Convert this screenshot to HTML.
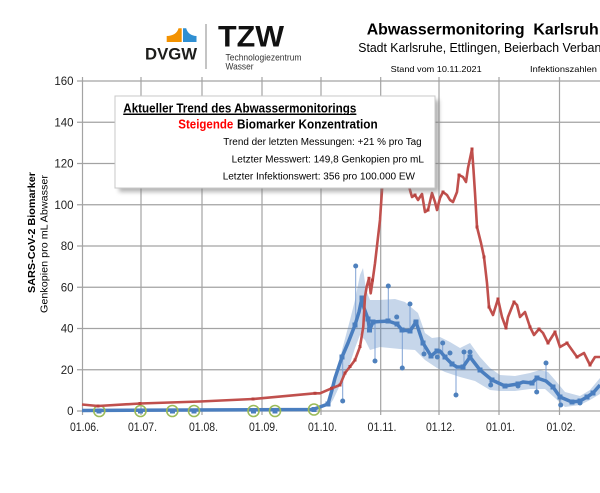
<!DOCTYPE html>
<html><head><meta charset="utf-8"><style>
html,body{margin:0;padding:0;background:#fff;}
svg{display:block;}
</style></head><body>
<svg width="600" height="493" viewBox="0 0 600 493" xmlns="http://www.w3.org/2000/svg" font-family="'Liberation Sans', Arial, sans-serif">
<defs>
<filter id="sh" x="-10%" y="-10%" width="130%" height="140%"><feGaussianBlur stdDeviation="2"/></filter>
<clipPath id="cp"><rect x="0" y="0" width="600" height="493"/></clipPath>
</defs>
<rect width="600" height="493" fill="#fff"/>

<!-- Logo -->
<path d="M166.7,42 L166.7,36 C173,36 177.5,33 178.5,28.3 L181.7,28.3 L181.7,42 Z" fill="#f39200"/>
<path d="M183,28.3 L186.2,28.3 C187.2,33 191.5,36 196.5,36 L196.5,42 L183,42 Z" fill="#2f8fd2"/>
<text x="145" y="59.5" font-size="17" font-weight="bold" fill="#1d1d1b" textLength="52" lengthAdjust="spacingAndGlyphs">DVGW</text>
<line x1="206" y1="24" x2="206" y2="69" stroke="#8a8a8a" stroke-width="1"/>
<text x="218" y="46.7" font-size="30" font-weight="bold" fill="#111" textLength="66" lengthAdjust="spacingAndGlyphs">TZW</text>
<text x="225.5" y="60.5" font-size="9.5" fill="#333" textLength="76" lengthAdjust="spacingAndGlyphs">Technologiezentrum</text>
<text x="225.5" y="69.5" font-size="9.5" fill="#333" textLength="28" lengthAdjust="spacingAndGlyphs">Wasser</text>

<!-- Titles -->
<text x="366.7" y="34.3" font-size="16" font-weight="bold" fill="#000" textLength="232" lengthAdjust="spacingAndGlyphs" xml:space="preserve">Abwassermonitoring  Karlsruh</text>
<text x="358.3" y="52" font-size="12.5" fill="#000" textLength="243" lengthAdjust="spacingAndGlyphs">Stadt Karlsruhe, Ettlingen, Beierbach Verban</text>
<text x="390.7" y="72" font-size="8.5" fill="#000" textLength="91" lengthAdjust="spacingAndGlyphs">Stand vom 10.11.2021</text>
<text x="530" y="72" font-size="8.5" fill="#000" textLength="72" lengthAdjust="spacingAndGlyphs">Infektionszahlen :</text>

<!-- Gridlines -->
<g stroke="#a3a3a3" stroke-width="1.2">
<line x1="77" y1="81" x2="600" y2="81"/>
<line x1="77" y1="122.25" x2="600" y2="122.25"/>
<line x1="77" y1="163.5" x2="600" y2="163.5"/>
<line x1="77" y1="204.75" x2="600" y2="204.75"/>
<line x1="77" y1="246" x2="600" y2="246"/>
<line x1="77" y1="287.25" x2="600" y2="287.25"/>
<line x1="77" y1="328.5" x2="600" y2="328.5"/>
<line x1="77" y1="369.75" x2="600" y2="369.75"/>
<line x1="77" y1="411" x2="600" y2="411"/>
<line x1="82.5" y1="77" x2="82.5" y2="415"/>
<line x1="141" y1="77" x2="141" y2="415"/>
<line x1="202" y1="77" x2="202" y2="415"/>
<line x1="262" y1="77" x2="262" y2="415"/>
<line x1="321" y1="77" x2="321" y2="415"/>
<line x1="380.7" y1="77" x2="380.7" y2="415"/>
<line x1="439" y1="77" x2="439" y2="415"/>
<line x1="499" y1="77" x2="499" y2="415"/>
<line x1="559.5" y1="77" x2="559.5" y2="415"/>
</g>

<!-- Y labels -->
<g font-size="11.5" fill="#222" text-anchor="end">
<text x="73.5" y="85">160</text>
<text x="73.5" y="126.3">140</text>
<text x="73.5" y="167.5">120</text>
<text x="73.5" y="208.8">100</text>
<text x="73.5" y="250">80</text>
<text x="73.5" y="291.3">60</text>
<text x="73.5" y="332.5">40</text>
<text x="73.5" y="373.8">20</text>
<text x="73.5" y="415">0</text>
</g>

<!-- X labels -->
<g font-size="11.5" fill="#222" text-anchor="middle">
<text x="84.5" y="431" textLength="29" lengthAdjust="spacingAndGlyphs">01.06.</text>
<text x="142.5" y="431" textLength="29" lengthAdjust="spacingAndGlyphs">01.07.</text>
<text x="203.5" y="431" textLength="29" lengthAdjust="spacingAndGlyphs">01.08.</text>
<text x="263.5" y="431" textLength="29" lengthAdjust="spacingAndGlyphs">01.09.</text>
<text x="322.5" y="431" textLength="29" lengthAdjust="spacingAndGlyphs">01.10.</text>
<text x="382" y="431" textLength="29" lengthAdjust="spacingAndGlyphs">01.11.</text>
<text x="440.5" y="431" textLength="29" lengthAdjust="spacingAndGlyphs">01.12.</text>
<text x="500.5" y="431" textLength="29" lengthAdjust="spacingAndGlyphs">01.01.</text>
<text x="561" y="431" textLength="29" lengthAdjust="spacingAndGlyphs">01.02.</text>
</g>

<!-- Axis titles -->
<text transform="translate(35,232.5) rotate(-90)" text-anchor="middle" font-size="10.5" font-weight="bold" fill="#000" textLength="121" lengthAdjust="spacingAndGlyphs">SARS-CoV-2 Biomarker</text>
<text transform="translate(47.5,244) rotate(-90)" text-anchor="middle" font-size="10.5" fill="#000" textLength="138" lengthAdjust="spacingAndGlyphs">Genkopien pro mL Abwasser</text>

<g clip-path="url(#cp)">
<!-- Band -->
<polygon fill="#4f81bd" fill-opacity="0.32" points="328,404 335,385 342,350 350,320 355,300 360,275 363,268 366,290 370,300 380,300 395,299 405,302 412,308 418,313 425,333 432,338 440,337 450,342 460,348 470,343 480,357 490,368 500,375 515,376 530,373 540,370 548,372 555,380 565,392 580,396 590,390 600,378 600,394 590,400 580,405 565,407 555,398 545,389 530,389 515,391 500,391 490,390 475,381 460,377 445,372 437,368 425,360 415,350 400,349 380,347 370,350 365,340 360,335 355,348 348,370 340,385 333,400 328,407"/>

<!-- Raw dots stems -->
<g stroke="#7fa2d4" stroke-width="1">
<line x1="342.7" y1="401" x2="342.7" y2="357"/>
<line x1="355.7" y1="266" x2="355.7" y2="325"/>
<line x1="375" y1="361" x2="375" y2="322"/>
<line x1="388.3" y1="286" x2="388.3" y2="321"/>
<line x1="402.3" y1="368" x2="402.3" y2="330"/>
<line x1="410" y1="304" x2="410" y2="331"/>
<line x1="424" y1="354" x2="424" y2="345"/>
<line x1="442.7" y1="343" x2="442.7" y2="352"/>
<line x1="456" y1="395" x2="456" y2="367"/>
<line x1="464" y1="352" x2="464" y2="367"/>
<line x1="470" y1="352" x2="470" y2="357"/>
<line x1="490.7" y1="385" x2="490.7" y2="379"/>
<line x1="536.7" y1="392" x2="536.7" y2="378"/>
<line x1="546" y1="363" x2="546" y2="381"/>
<line x1="560.7" y1="405" x2="560.7" y2="397"/>
</g>
<g fill="#4f81bd">
<circle cx="342.7" cy="401" r="2.5"/><circle cx="355.7" cy="266" r="2.5"/><circle cx="375" cy="361" r="2.5"/>
<circle cx="388.3" cy="286" r="2.5"/><circle cx="396.7" cy="317" r="2.5"/><circle cx="402.3" cy="368" r="2.5"/>
<circle cx="410" cy="304" r="2.5"/><circle cx="415.7" cy="322" r="2.5"/><circle cx="424" cy="354" r="2.5"/>
<circle cx="437.3" cy="357" r="2.5"/><circle cx="442.7" cy="343" r="2.5"/><circle cx="450" cy="353" r="2.5"/>
<circle cx="456" cy="395" r="2.5"/><circle cx="464" cy="352" r="2.5"/><circle cx="470" cy="352" r="2.5"/>
<circle cx="490.7" cy="385" r="2.5"/><circle cx="536.7" cy="392" r="2.5"/><circle cx="546" cy="363" r="2.5"/>
<circle cx="560.7" cy="405" r="2.5"/><circle cx="518" cy="386" r="2.5"/><circle cx="580" cy="403" r="2.5"/>
</g>

<!-- Blue avg line -->
<polyline fill="none" stroke="#4a7ebf" stroke-width="3.5" stroke-linejoin="round" points="82,410.5 313,409.5 328,404 332,390 335,378 342,357 348,343 355,325 359,312 362,298 364,308 368,319 369.5,330 373,322 388,321 397,324 402,330 410,331 416,322 423,343 431,356 437,351 440,351 445,357 452,364 457,367 463,367 470,357 480,370 492,380 505,386 518,384 523,382 532,383 537,378 546,381 553,387 560,397 572,402 580,401 587,397 593,393 600,385"/>
<g fill="#4a7ebf">
<rect x="96.5" y="408.5" width="5" height="5"/><rect x="138" y="408.5" width="5" height="5"/><rect x="170" y="408.5" width="5" height="5"/><rect x="191.5" y="408.5" width="5" height="5"/><rect x="251" y="408.5" width="5" height="5"/><rect x="272.5" y="408.5" width="5" height="5"/><rect x="311.5" y="407" width="5" height="5"/>
<rect x="325.5" y="401.5" width="5" height="5"/><rect x="339.5" y="354.5" width="5" height="5"/><rect x="352.5" y="322.5" width="5" height="5"/><rect x="359.5" y="295.5" width="5" height="5"/><rect x="365.5" y="316.5" width="5" height="5"/><rect x="367" y="327.5" width="5" height="5"/><rect x="370.5" y="319.5" width="5" height="5"/><rect x="385.5" y="318.5" width="5" height="5"/><rect x="394.5" y="321.5" width="5" height="5"/><rect x="399.5" y="327.5" width="5" height="5"/><rect x="407.5" y="328.5" width="5" height="5"/><rect x="413.5" y="319.5" width="5" height="5"/><rect x="420.5" y="340.5" width="5" height="5"/><rect x="428.5" y="353.5" width="5" height="5"/><rect x="434.5" y="348.5" width="5" height="5"/><rect x="442.5" y="354.5" width="5" height="5"/><rect x="449.5" y="361.5" width="5" height="5"/><rect x="460.5" y="364.5" width="5" height="5"/><rect x="467.5" y="354.5" width="5" height="5"/><rect x="477.5" y="367.5" width="5" height="5"/><rect x="489.5" y="377.5" width="5" height="5"/><rect x="502.5" y="383.5" width="5" height="5"/><rect x="515.5" y="381.5" width="5" height="5"/><rect x="529.5" y="380.5" width="5" height="5"/><rect x="534.5" y="375.5" width="5" height="5"/><rect x="550.5" y="384.5" width="5" height="5"/><rect x="557.5" y="394.5" width="5" height="5"/><rect x="569.5" y="399.5" width="5" height="5"/><rect x="577.5" y="398.5" width="5" height="5"/><rect x="584.5" y="394.5" width="5" height="5"/><rect x="590.5" y="390.5" width="5" height="5"/>
</g>
<!-- Green circles -->
<g fill="none" stroke="#9bbb59" stroke-width="1.6">
<circle cx="99.3" cy="411" r="5.5"/><circle cx="140.5" cy="411" r="5.5"/><circle cx="172.3" cy="411" r="5.5"/><circle cx="194" cy="411" r="5.5"/><circle cx="253.5" cy="411" r="5.5"/><circle cx="275" cy="411" r="5.5"/><circle cx="314" cy="409.5" r="5.5"/>
</g>

<!-- Red line -->
<polyline fill="none" stroke="#c0504d" stroke-width="2.6" stroke-linejoin="round" points="82,404.5 98,406 140,403.5 200,401.5 253,399 315,393.3 320,393.3 331.7,388.3 340,385 345,373 350,366.7 355,360 360,346.7 363.3,326.7 365,296.7 366.7,286.7 369,278.3 370.7,293.3 372.7,280 375,263.3 377.3,243.3 380,220 382,190 385,160 390,130 395,115 400,135 405,170 410,190 412,197 415,195 418,200 422,194 425,212 428,210 432,193 435,202 437,210 440,198 443,192 447,195 450,200 453,202 457,192 459,175 463,177 466,182 468,168 472,149 473.5,170 475,193 477,227 481,243 484,257 487,283 489,307 493,315 498,299 502,317 506,328 508,317 514,302 517,305 520,317 525,312 530,327 534,335 539,329 543,333 548,343 555,332 560,347 567,343 572,350 577,357 584,353 590,365 595,357 600,357"/>
<g fill="#b8403d">
<rect x="96.5" y="404.5" width="3" height="3"/><rect x="138.5" y="402" width="3" height="3"/><rect x="251.5" y="397.5" width="3" height="3"/><rect x="313.5" y="391.8" width="3" height="3"/><rect x="330" y="386.8" width="3" height="3"/><rect x="338.5" y="383.5" width="3" height="3"/><rect x="343.5" y="371.5" width="3" height="3"/><rect x="348.5" y="365" width="3" height="3"/><rect x="353.5" y="358.5" width="3" height="3"/><rect x="358.5" y="345" width="3" height="3"/><rect x="367.5" y="276.8" width="3" height="3"/><rect x="371" y="278.5" width="3" height="3"/><rect x="413.5" y="193.5" width="3" height="3"/><rect x="426.5" y="208.5" width="3" height="3"/><rect x="441.5" y="190.5" width="3" height="3"/><rect x="457.5" y="173.5" width="3" height="3"/><rect x="470.5" y="147.5" width="3" height="3"/><rect x="475.5" y="225.5" width="3" height="3"/><rect x="482.5" y="255.5" width="3" height="3"/><rect x="487.5" y="305.5" width="3" height="3"/><rect x="496.5" y="297.5" width="3" height="3"/><rect x="504.5" y="326.5" width="3" height="3"/><rect x="512.5" y="300.5" width="3" height="3"/><rect x="528.5" y="325.5" width="3" height="3"/><rect x="537.5" y="327.5" width="3" height="3"/><rect x="546.5" y="341.5" width="3" height="3"/><rect x="553.5" y="330.5" width="3" height="3"/><rect x="565.5" y="341.5" width="3" height="3"/><rect x="575.5" y="355.5" width="3" height="3"/><rect x="588.5" y="363.5" width="3" height="3"/>
</g>
</g>

<!-- Info box -->
<rect x="119" y="100" width="320" height="92" fill="#777" opacity="0.55" filter="url(#sh)"/>
<rect x="115" y="96" width="320" height="92" fill="#fff" stroke="#c8c8c8" stroke-width="1"/>
<text x="123.3" y="112.5" font-size="12.5" font-weight="bold" fill="#000" text-decoration="underline" textLength="233" lengthAdjust="spacingAndGlyphs">Aktueller Trend des Abwassermonitorings</text>
<line x1="123.3" y1="114.5" x2="356.3" y2="114.5" stroke="#000" stroke-width="1"/>
<text x="178.3" y="128.5" font-size="12.5" font-weight="bold" fill="#ff0000" textLength="55" lengthAdjust="spacingAndGlyphs">Steigende</text>
<text x="237" y="128.5" font-size="12.5" font-weight="bold" fill="#000" textLength="140.7" lengthAdjust="spacingAndGlyphs">Biomarker Konzentration</text>
<text x="223.3" y="145" font-size="10" fill="#000" textLength="198.4" lengthAdjust="spacingAndGlyphs">Trend der letzten Messungen: +21 % pro Tag</text>
<text x="231.7" y="162.7" font-size="10" fill="#000" textLength="192.3" lengthAdjust="spacingAndGlyphs">Letzter Messwert: 149,8 Genkopien pro mL</text>
<text x="222.7" y="179.5" font-size="10" fill="#000" textLength="192.3" lengthAdjust="spacingAndGlyphs">Letzter Infektionswert: 356 pro 100.000 EW</text>
</svg>
</body></html>
